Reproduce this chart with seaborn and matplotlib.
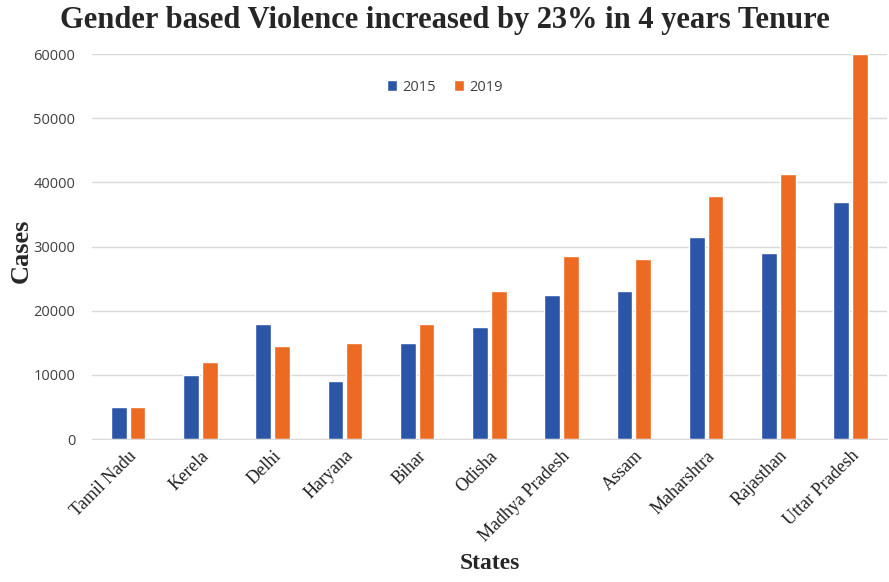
import matplotlib
matplotlib.use("Agg")
import matplotlib.pyplot as plt
import seaborn as sns
import pandas as pd

states = ["Tamil Nadu", "Kerela", "Delhi", "Haryana", "Bihar", "Odisha",
          "Madhya Pradesh", "Assam", "Maharshtra", "Rajasthan", "Uttar Pradesh"]
cases_2015 = [5000, 10000, 18000, 9000, 15000, 17500, 22500, 23000, 31500, 29000, 37000]
cases_2019 = [5000, 12000, 14500, 15000, 18000, 23000, 28500, 28000, 37800, 41300, 60000]
years = ["2015", "2019"]
yticks = [0, 10000, 20000, 30000, 40000, 50000, 60000]

df = pd.DataFrame({
    "State": states * 2,
    "Year": [years[0]] * len(states) + [years[1]] * len(states),
    "Cases": cases_2015 + cases_2019,
})

sns.set_style("white")
fig = plt.figure(figsize=(8.89, 5.82), dpi=100)
ax = fig.add_axes([0.1035, 0.2457, 0.894, 0.6615])

palette = {"2015": "#2B56A8", "2019": "#EC6A21"}
sns.barplot(data=df, x="State", y="Cases", hue="Year", palette=palette,
            width=0.52, gap=0.16, ax=ax, saturation=1)

ax.set_ylim(0, 60000)
ax.set_yticks(yticks)
ax.set_yticklabels([str(v) for v in yticks], fontsize=10.5, color="#404040",
                   family="Open Sans")
ax.yaxis.grid(True, color="#d9d9d9", linewidth=1)
ax.set_axisbelow(True)
for s in ["top", "right", "left"]:
    ax.spines[s].set_visible(False)
ax.spines["bottom"].set_color("#d9d9d9")
ax.tick_params(axis="both", length=0)
ax.tick_params(axis="y", pad=12)
ax.set_xticks(range(len(states)))
ax.set_xticklabels(states, rotation=45, ha="right", rotation_mode="anchor",
                   fontsize=13, family="Liberation Serif", color="#222222")
ax.tick_params(axis="x", pad=6)

ax.set_xlabel("States", fontsize=17, fontweight="bold", family="Liberation Serif",
              labelpad=6)
ax.set_ylabel("Cases", fontsize=19, fontweight="bold", family="Liberation Serif")
ax.yaxis.set_label_coords(-0.074, 0.49)

fig.text(0.5, 0.965, "Gender based Violence increased by 23% in 4 years Tenure",
         ha="center", va="center", fontsize=22, fontweight="bold",
         family="Liberation Serif")

leg = ax.legend(loc="center", bbox_to_anchor=(0.444, 0.914), ncol=2, frameon=False,
                handlelength=0.7, handleheight=0.7, handletextpad=0.4,
                columnspacing=1.2, prop={"family": "Open Sans", "size": 10.5})
for t in leg.get_texts():
    t.set_color("#404040")

fig.savefig("out.png", dpi=100)
